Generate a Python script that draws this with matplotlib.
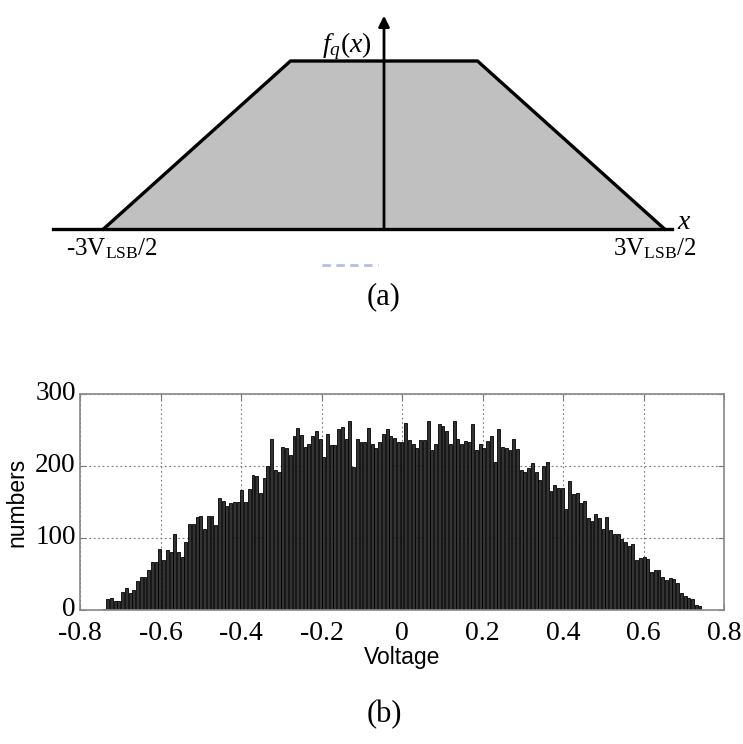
import numpy as np
import matplotlib
matplotlib.use("Agg")
import matplotlib.pyplot as plt
from matplotlib.ticker import FixedLocator, FuncFormatter
from matplotlib.transforms import ScaledTranslation

plt.rcParams['mathtext.fontset'] = 'custom'
plt.rcParams['mathtext.rm'] = 'Liberation Serif'
plt.rcParams['mathtext.it'] = 'Liberation Serif:italic'

# ---------------- data ----------------
# (a) trapezoidal pdf of quantization error (units of V_LSB)
trap_x = [-1.5, -0.5, 0.5, 1.5]
trap_y = [0.0, 1.0, 1.0, 0.0]
left_label = r'-3V$_{\mathrm{LSB}}$/2'
right_label = r'3V$_{\mathrm{LSB}}$/2'

# (b) histogram of voltages
bin_lo, bin_hi = -0.745, 0.745
counts = [1, 15, 16, 13, 12, 25, 30, 24, 28, 40,
          46, 46, 55, 66, 67, 85, 69, 84, 81, 106,
          81, 73, 95, 119, 119, 129, 130, 112, 130, 130,
          118, 156, 152, 144, 148, 150, 150, 167, 150, 168,
          188, 186, 162, 183, 200, 238, 194, 192, 226, 225,
          215, 242, 253, 243, 227, 231, 241, 249, 237, 213,
          244, 229, 229, 251, 254, 237, 263, 199, 238, 234,
          234, 253, 231, 225, 234, 244, 251, 241, 239, 234,
          233, 260, 236, 231, 225, 236, 236, 263, 222, 231,
          259, 256, 249, 231, 262, 238, 231, 235, 234, 258,
          222, 231, 225, 235, 242, 206, 252, 226, 225, 222,
          238, 224, 194, 192, 197, 204, 192, 180, 200, 206,
          165, 174, 170, 169, 140, 179, 161, 163, 148, 151,
          128, 124, 133, 128, 112, 129, 111, 106, 106, 98,
          94, 89, 92, 69, 72, 73, 71, 53, 56, 56,
          46, 42, 44, 43, 37, 24, 20, 16, 15, 7, 6]
x_ticks = [-0.8, -0.6, -0.4, -0.2, 0, 0.2, 0.4, 0.6, 0.8]
y_ticks = [0, 100, 200, 300]

W, H = 743, 744
fig = plt.figure(figsize=(W / 100, H / 100), dpi=100)

# ---------------- (a) ----------------
axa = fig.add_axes([0, 1 - 330 / H, 1, 330 / H])
axa.set_xlim(-384 / 187, (W - 384) / 187)
axa.set_ylim((229 - 330) / 168, 229 / 168)
axa.axis('off')
axa.fill(trap_x, trap_y, facecolor='#c0c0c0', edgecolor='none', zorder=1)
axa.plot(trap_x, trap_y, color='black', lw=2.4, solid_joinstyle='miter', zorder=3)
axa.plot([-1.77, 1.54], [0, 0], color='black', lw=2.4, zorder=3)
axa.annotate('', xy=(0, 1.27), xytext=(0, 0),
             arrowprops=dict(arrowstyle='-|>', color='black', lw=2.0,
                             mutation_scale=16, shrinkA=0, shrinkB=0), zorder=4)
axa.text(-0.2, 1.09, r'$f_q(x)$', fontsize=20, ha='center', va='center')
axa.text(-1.455, -0.115, left_label, fontsize=18, ha='center', va='center',
         family='Liberation Serif')
axa.text(1.45, -0.115, right_label, fontsize=18, ha='center', va='center',
         family='Liberation Serif')
axa.text(1.6, 0.04, 'x', fontsize=20, ha='center', va='center',
         family='Liberation Serif', style='italic')
axa.plot([-0.33, -0.03], [-0.214, -0.214], color='#b4bde6', lw=2,
         dashes=(3, 2))
axa.text(0, -0.405, '(a)', fontsize=22, ha='center', va='center',
         family='Liberation Serif')

# ---------------- (b) ----------------
axb = fig.add_axes([80 / W, 1 - 610 / H, 644 / W, 216 / H])
n = len(counts)
edges = np.linspace(bin_lo, bin_hi, n + 1)
centers = (edges[:-1] + edges[1:]) / 2
bw = (bin_hi - bin_lo) / n
axb.bar(centers, counts, width=bw * 0.78, color='#333333', edgecolor='black',
        linewidth=0.6, zorder=2)
axb.set_xlim(-0.8, 0.8)
axb.set_ylim(0, 300)
axb.xaxis.set_major_locator(FixedLocator(x_ticks))
axb.yaxis.set_major_locator(FixedLocator(y_ticks))
axb.xaxis.set_major_formatter(FuncFormatter(lambda v, p: ('%g' % round(v, 1)).replace('\u2212', '-')))
axb.yaxis.set_major_formatter(FuncFormatter(lambda v, p: '%d' % v))
axb.tick_params(direction='in', length=4, width=0.8, color='#777777',
                top=True, right=True)
axb.tick_params(axis='x', pad=8, labelsize=20)
axb.tick_params(axis='y', pad=3, labelsize=19.5)
for lab in axb.get_xticklabels() + axb.get_yticklabels():
    lab.set_family('Liberation Serif')
shift_up = ScaledTranslation(0, 2.5 / 72, fig.dpi_scale_trans)
for lab in axb.get_yticklabels():
    lab.set_transform(lab.get_transform() + shift_up)
axb.grid(True, color='#777777', linestyle=(0, (1.5, 2.5)), linewidth=0.8, zorder=1)
axb.set_axisbelow(True)
for s in axb.spines.values():
    s.set_color('#888888')
    s.set_linewidth(1.2)
axb.set_xlabel('Voltage', fontsize=16.5, family='Liberation Sans', labelpad=0)
axb.set_ylabel('numbers', fontsize=16.5, family='Liberation Sans', labelpad=5)

fig.text(384 / W, 1 - 715 / H, '(b)', fontsize=22, ha='center', va='center',
         family='Liberation Serif')

fig.savefig('out.png', dpi=100)
